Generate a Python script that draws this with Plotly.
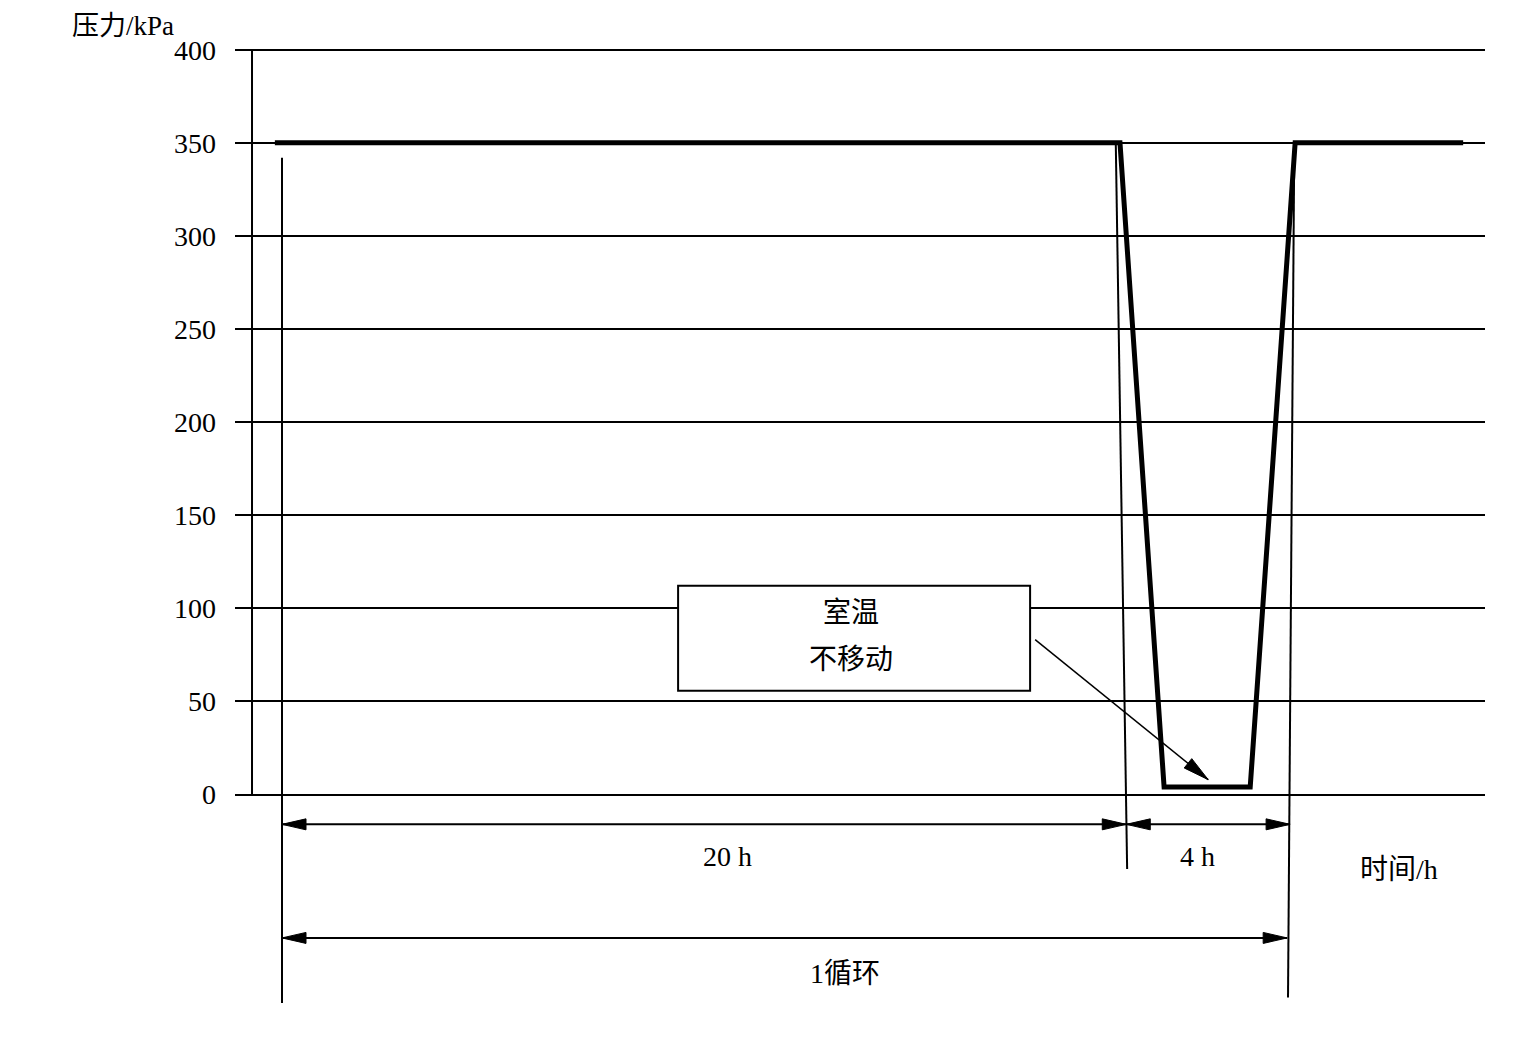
import plotly.graph_objects as go

# pressure cycle (hours, kPa)
time_h = [-0.17, 19.95, 21.0, 23.05, 24.12, 28.12]
pressure_kpa = [350, 350, 4, 4, 350, 350]

y_ticks = [0, 50, 100, 150, 200, 250, 300, 350, 400]

# dimension lines: (start h, end h, level kPa, label, label x, label y)
dims = [
    (0, 20.1, -16, "20 h", 10.6, -33),
    (20.1, 24.0, -16, "4 h", 21.8, -33),
    (0, 23.93, -77, "1循环", 13.4, -96),
]
# extension lines: (x top, y top, x bottom, y bottom)
ext_lines = [
    (0, 342, 0, -112),
    (19.85, 350, 20.12, -40),
    (24.1, 350, 23.95, -109),
]

box_x = [9.43, 17.81]
box_y = [55.8, 112.2]
box_text = ["室温", "不移动"]
leader = [(17.93, 83.2), (22.05, 8.0)]

# page has an 8px body margin, so the figure is a bit smaller than the window
W, H = 1518, 1022
ml, mr, mt, mb = 227, 41, 38, 12
xr = [-1.119, 28.64]
yr = [-120, 402]
sx = (W - ml - mr) / (xr[1] - xr[0])
sy = (H - mt - mb) / (yr[1] - yr[0])

FONT = "Liberation Serif, Noto Sans CJK SC"


def head(tip, tail, length=24, half=5.5):
    # filled arrow head, computed in pixel space
    dx = (tip[0] - tail[0]) * sx
    dy = (tip[1] - tail[1]) * sy
    n = (dx ** 2 + dy ** 2) ** 0.5
    ux, uy = dx / n, dy / n
    bx, by = -ux * length, -uy * length
    p1 = (tip[0] + (bx - uy * half) / sx, tip[1] + (by + ux * half) / sy)
    p2 = (tip[0] + (bx + uy * half) / sx, tip[1] + (by - ux * half) / sy)
    return "M %f,%f L %f,%f L %f,%f Z" % (tip[0], tip[1], p1[0], p1[1], p2[0], p2[1])


fig = go.Figure()
fig.add_trace(go.Scatter(x=time_h, y=pressure_kpa, mode="lines",
                         line=dict(color="black", width=5), hoverinfo="skip",
                         showlegend=False))

shapes = []
# y axis line
shapes.append(dict(type="line", x0=-0.714, x1=-0.714, y0=0, y1=400,
                   line=dict(color="black", width=2)))
for x0, y0, x1, y1 in ext_lines:
    shapes.append(dict(type="line", x0=x0, y0=y0, x1=x1, y1=y1,
                       line=dict(color="black", width=2)))

annotations = []
for a, b, lvl, lab, lx, ly in dims:
    shapes.append(dict(type="line", x0=a, x1=b, y0=lvl, y1=lvl,
                       line=dict(color="black", width=2)))
    shapes.append(dict(type="path", path=head((a, lvl), (b, lvl)),
                       fillcolor="black", line=dict(color="black", width=1)))
    shapes.append(dict(type="path", path=head((b, lvl), (a, lvl)),
                       fillcolor="black", line=dict(color="black", width=1)))
    annotations.append(dict(x=lx, y=ly, text=lab, showarrow=False,
                            font=dict(size=28, family=FONT, color="black")))

shapes.append(dict(type="rect", x0=box_x[0], x1=box_x[1], y0=box_y[0], y1=box_y[1],
                   fillcolor="white", line=dict(color="black", width=2), layer="above"))
annotations.append(dict(x=13.55, y=97.7, text=box_text[0], showarrow=False,
                        font=dict(size=28, family=FONT, color="black")))
annotations.append(dict(x=13.55, y=72.5, text=box_text[1], showarrow=False,
                        font=dict(size=28, family=FONT, color="black")))

(tx, ty), (hx, hy) = leader
shapes.append(dict(type="line", x0=tx, y0=ty, x1=hx, y1=hy,
                   line=dict(color="black", width=1.5)))
shapes.append(dict(type="path", path=head((hx, hy), (tx, ty), 26, 6),
                   fillcolor="black", line=dict(color="black", width=1)))

annotations.append(dict(x=-0.0896, y=1.0206, xref="paper", yref="paper",
                        xanchor="center", yanchor="middle",
                        text="压力/kPa", showarrow=False,
                        font=dict(size=27, family=FONT, color="black")))
annotations.append(dict(x=26.6, y=-40, text="时间/h", showarrow=False,
                        font=dict(size=28, family=FONT, color="black")))

fig.update_layout(
    width=W, height=H,
    margin=dict(l=ml, r=mr, t=mt, b=mb),
    plot_bgcolor="white", paper_bgcolor="white",
    shapes=shapes, annotations=annotations,
    showlegend=False,
)
fig.update_xaxes(range=xr, visible=False, showgrid=False, zeroline=False)
fig.update_yaxes(range=yr, tickvals=y_ticks, ticktext=[str(v) for v in y_ticks],
                 showgrid=True, gridcolor="black", gridwidth=1.5, zeroline=False,
                 showline=False, ticks="", ticklabelstandoff=18,
                 tickfont=dict(size=28, family=FONT, color="black"))

fig.write_html("out.html")
